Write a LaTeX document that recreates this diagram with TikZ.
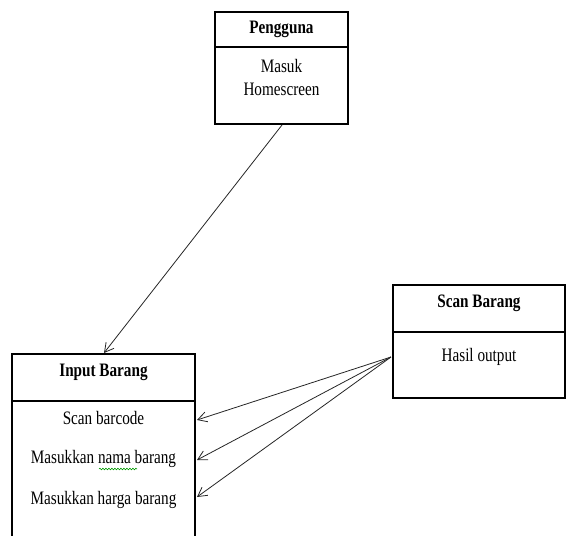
\documentclass[tikz,border=0pt]{standalone}
\usepackage{fontspec}
\setmainfont[FakeStretch=0.8]{Liberation Serif}
\usetikzlibrary{arrows.meta,decorations.pathmorphing}
\begin{document}
\begin{tikzpicture}[x=1pt,y=-1pt,
  box/.style={draw=black,line width=1.6pt,fill=white},
  divline/.style={draw=black,line width=1.6pt},
  ttl/.style={font=\fontsize{19}{23}\selectfont\bfseries,inner sep=0pt,anchor=center},
  txt/.style={font=\fontsize{19}{23}\selectfont,inner sep=0pt,anchor=center,align=center},
  conn/.style={draw=black!85,line width=0.8pt,-{Straight Barb[length=9pt,width=10pt,line width=0.8pt]}}]
\useasboundingbox (0,0) rectangle (566,536);
\fill[white] (0,0) rectangle (566,536);
% Pengguna
\draw[box] (215,12) rectangle (348,124);
\draw[divline] (215,47) -- (348,47);
\node[ttl] (pengT) at (281.5,29) {Pengguna};
\node[txt] (pengB) at (281.5,77) {Masuk\\Homescreen};
% Input Barang
\draw[box] (12,354) rectangle (195,560);
\draw[divline] (12,401) -- (195,401);
\node[ttl] (inT) at (103.5,372) {Input Barang};
\node[txt] (in1) at (103.5,418) {Scan barcode};
\node[txt] (in2) at (103.5,459) {Masukkan nama barang};
\node[txt] (in3) at (103.5,500) {Masukkan harga barang};
\draw[green!60!black,line width=0.6pt,decorate,decoration={snake,amplitude=0.8pt,segment length=3pt}] (99,469) -- (137,469);
% Scan Barang
\draw[box] (393,285) rectangle (565,398);
\draw[divline] (393,332) -- (565,332);
\node[ttl] (scT) at (479,303) {Scan Barang};
\node[txt] (scB) at (479,357) {Hasil output};
% connector points
\coordinate (pengOut) at (282,125);
\coordinate (inIn) at (104,353);
\coordinate (scOut) at (391,357);
\coordinate (r1) at (197,420);
\coordinate (r2) at (197,460);
\coordinate (r3) at (197,497);
\draw[conn] (pengOut) -- (inIn);
\draw[conn] (scOut) -- (r1);
\draw[conn] (scOut) -- (r2);
\draw[conn] (scOut) -- (r3);
\end{tikzpicture}
\end{document}
